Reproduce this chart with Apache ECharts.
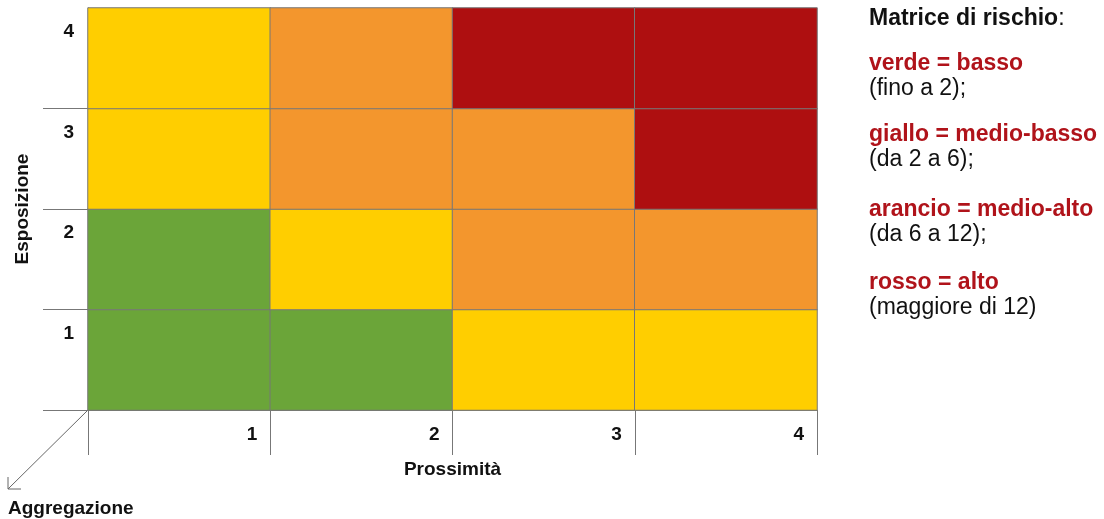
<!DOCTYPE html>
<html>
<head>
<meta charset="utf-8">
<title>Matrice di rischio</title>
<script src="https://cdn.jsdelivr.net/npm/echarts@6/dist/echarts.min.js"></script>
<style>
  html, body { margin: 0; padding: 0; background: #fff; }
  #main { width: 1104px; height: 519px; }
</style>
</head>
<body>
<div id="main"></div>
<script>
// assi
var prossimita = ['1', '2', '3', '4']
var esposizione = ['1', '2', '3', '4']
// punteggio di rischio, una riga per livello di esposizione (1 -> 4)
var rischioEsp1 = [1, 2, 3, 4]
var rischioEsp2 = [2, 4, 6, 8]
var rischioEsp3 = [3, 6, 9, 12]
var rischioEsp4 = [4, 8, 12, 16]
var righe = [rischioEsp1, rischioEsp2, rischioEsp3, rischioEsp4]

var FONT = '"Liberation Sans", Arial, Helvetica, sans-serif'
var ROSSO_TESTO = '#b0131a'

// asse y dall'alto verso il basso: 4,3,2,1
var yCats = esposizione.slice().reverse()
var dati = []
righe.forEach(function (riga, e) {
  riga.forEach(function (v, p) {
    dati.push([p, yCats.indexOf(esposizione[e]), v])
  })
})

// righe della legenda a destra: testo, stile, centro verticale
function riga (testo, grassetto, colore, y) {
  return {
    type: 'text', x: 869, y: y,
    style: {
      text: testo,
      font: (grassetto ? 'bold ' : '') + '23px ' + FONT,
      fill: colore,
      verticalAlign: 'middle'
    }
  }
}

var chartDom = document.getElementById('main')
var myChart = echarts.init(chartDom)
var option = {
  animation: false,
  grid: { left: 88, top: 8, width: 729, height: 402, containLabel: false },
  xAxis: {
    type: 'category',
    data: prossimita,
    name: 'Prossimità',
    nameLocation: 'middle',
    nameGap: 50,
    nameTextStyle: { fontFamily: FONT, fontWeight: 'bold', fontSize: 19, color: '#111' },
    axisLine: { lineStyle: { color: '#777', width: 1 } },
    axisTick: { show: true, length: 45, lineStyle: { color: '#777' } },
    axisLabel: {
      fontFamily: FONT, fontWeight: 'bold', fontSize: 19, color: '#111',
      margin: 15, padding: [0, 0, 0, 146]
    },
    splitLine: { show: false }
  },
  yAxis: {
    type: 'category',
    data: yCats,
    inverse: true,
    name: 'Esposizione',
    nameLocation: 'middle',
    nameGap: 56,
    nameRotate: 90,
    nameTextStyle: { fontFamily: FONT, fontWeight: 'bold', fontSize: 19, color: '#111' },
    axisLine: { lineStyle: { color: '#777', width: 1 } },
    axisTick: {
      show: true,
      length: 45,
      interval: function (index) { return index !== 0 },
      lineStyle: { color: '#777' }
    },
    axisLabel: {
      fontFamily: FONT, fontWeight: 'bold', fontSize: 19, color: '#111',
      margin: 14,
      lineHeight: 26,
      formatter: '{value}\n\n'
    },
    splitLine: { show: false }
  },
  visualMap: {
    show: false,
    type: 'piecewise',
    dimension: 2,
    pieces: [
      { lte: 2, color: '#6ba539' },
      { gt: 2, lt: 6, color: '#ffce00' },
      { gte: 6, lt: 12, color: '#f3962d' },
      { gte: 12, color: '#ae0f10' }
    ]
  },
  series: [
    {
      type: 'heatmap',
      data: dati,
      label: { show: false },
      itemStyle: { borderColor: '#777', borderWidth: 1 },
      emphasis: { disabled: true }
    }
  ],
  graphic: [
    // freccia "Aggregazione"
    { type: 'line', shape: { x1: 88, y1: 410, x2: 8, y2: 489 }, style: { stroke: '#666', lineWidth: 1 } },
    { type: 'polyline', shape: { points: [[8, 477], [8, 489], [21, 489]] }, style: { stroke: '#666', lineWidth: 1, fill: null } },
    { type: 'text', x: 8, y: 509, style: { text: 'Aggregazione', font: 'bold 19px ' + FONT, fill: '#111', verticalAlign: 'middle' } },
    // legenda testuale
    {
      type: 'text', x: 869, y: 19,
      style: {
        text: '{b|Matrice di rischio}{n|:}',
        verticalAlign: 'middle',
        rich: {
          b: { font: 'bold 23px ' + FONT, fill: '#111' },
          n: { font: '23px ' + FONT, fill: '#111' }
        }
      }
    },
    riga('verde = basso', true, ROSSO_TESTO, 64),
    riga('(fino a 2);', false, '#111', 89),
    riga('giallo = medio-basso', true, ROSSO_TESTO, 135),
    riga('(da 2 a 6);', false, '#111', 160),
    riga('arancio = medio-alto', true, ROSSO_TESTO, 210),
    riga('(da 6 a 12);', false, '#111', 235),
    riga('rosso = alto', true, ROSSO_TESTO, 283),
    riga('(maggiore di 12)', false, '#111', 308)
  ]
}
option && myChart.setOption(option)
</script>
</body>
</html>
